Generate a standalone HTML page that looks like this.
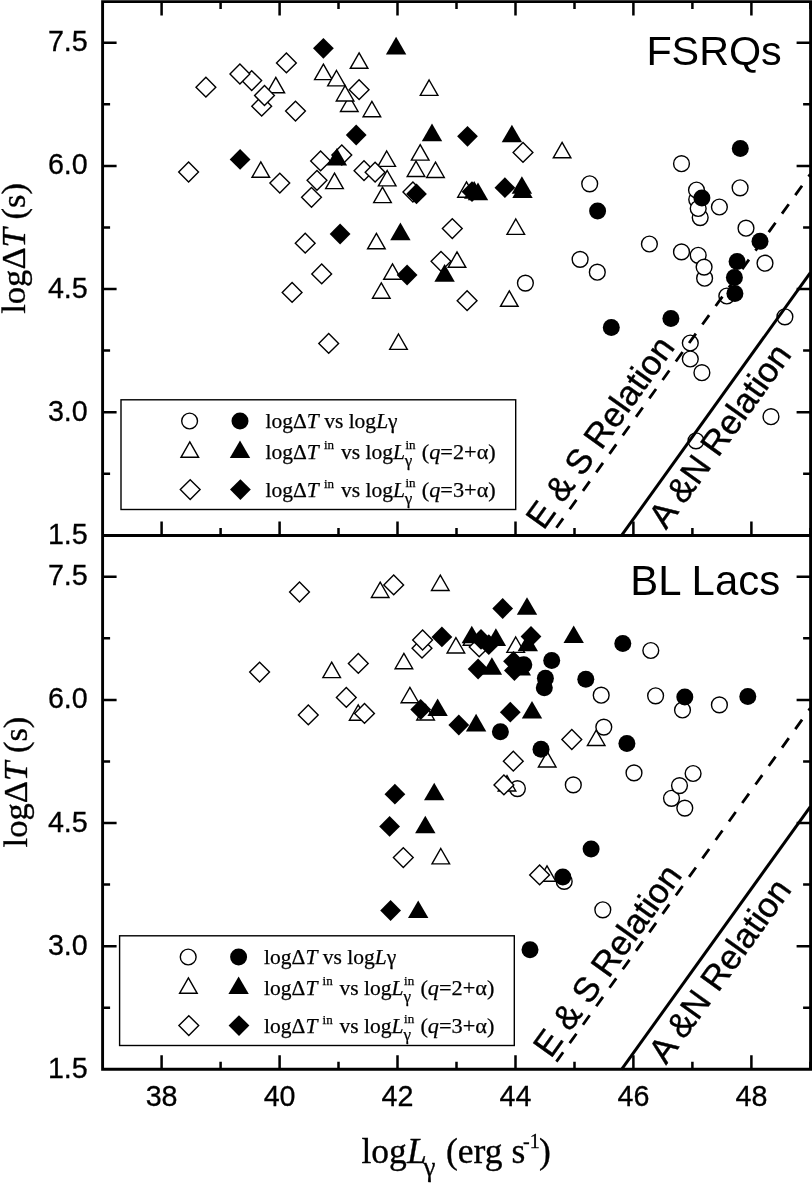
<!DOCTYPE html>
<html><head><meta charset="utf-8"><title>logΔT vs logLγ</title>
<style>html,body{margin:0;padding:0;background:#fff}svg{display:block}text{fill:#000}</style></head>
<body>
<svg width="812" height="1183" viewBox="0 0 812 1183">
<rect width="812" height="1183" fill="#fff"/>
<g id="top-data"><g><circle cx="681.5" cy="163.7" r="7.9" fill="#fff" stroke="#000" stroke-width="1.4"/><circle cx="696.7" cy="199.6" r="7.9" fill="#fff" stroke="#000" stroke-width="1.4"/><circle cx="696.5" cy="190.0" r="7.9" fill="#fff" stroke="#000" stroke-width="1.4"/><circle cx="700.2" cy="217.6" r="7.9" fill="#fff" stroke="#000" stroke-width="1.4"/><circle cx="698.2" cy="208.5" r="7.9" fill="#fff" stroke="#000" stroke-width="1.4"/><circle cx="719.4" cy="207.0" r="7.9" fill="#fff" stroke="#000" stroke-width="1.4"/><circle cx="740.1" cy="187.8" r="7.9" fill="#fff" stroke="#000" stroke-width="1.4"/><circle cx="746.0" cy="228.2" r="7.9" fill="#fff" stroke="#000" stroke-width="1.4"/><circle cx="649.4" cy="244.0" r="7.9" fill="#fff" stroke="#000" stroke-width="1.4"/><circle cx="681.5" cy="251.9" r="7.9" fill="#fff" stroke="#000" stroke-width="1.4"/><circle cx="698.2" cy="255.3" r="7.9" fill="#fff" stroke="#000" stroke-width="1.4"/><circle cx="704.6" cy="278.2" r="7.9" fill="#fff" stroke="#000" stroke-width="1.4"/><circle cx="704.1" cy="267.1" r="7.9" fill="#fff" stroke="#000" stroke-width="1.4"/><circle cx="765.0" cy="263.2" r="7.9" fill="#fff" stroke="#000" stroke-width="1.4"/><circle cx="726.8" cy="296.0" r="7.9" fill="#fff" stroke="#000" stroke-width="1.4"/><circle cx="784.9" cy="316.8" r="7.9" fill="#fff" stroke="#000" stroke-width="1.4"/><circle cx="690.3" cy="343.0" r="7.9" fill="#fff" stroke="#000" stroke-width="1.4"/><circle cx="690.3" cy="359.0" r="7.9" fill="#fff" stroke="#000" stroke-width="1.4"/><circle cx="701.9" cy="372.7" r="7.9" fill="#fff" stroke="#000" stroke-width="1.4"/><circle cx="696.0" cy="440.8" r="7.9" fill="#fff" stroke="#000" stroke-width="1.4"/><circle cx="771.0" cy="416.7" r="7.9" fill="#fff" stroke="#000" stroke-width="1.4"/><circle cx="589.7" cy="183.8" r="7.9" fill="#fff" stroke="#000" stroke-width="1.4"/><circle cx="580.1" cy="259.4" r="7.9" fill="#fff" stroke="#000" stroke-width="1.4"/><circle cx="597.3" cy="272.2" r="7.9" fill="#fff" stroke="#000" stroke-width="1.4"/><circle cx="525.4" cy="283.1" r="7.9" fill="#fff" stroke="#000" stroke-width="1.4"/></g>
<g><path d="M275.8 77.4L284.6 92.8H267.0Z" fill="#fff" stroke="#000" stroke-width="1.4" stroke-linejoin="miter"/><path d="M323.4 64.2L332.2 79.6H314.6Z" fill="#fff" stroke="#000" stroke-width="1.4" stroke-linejoin="miter"/><path d="M260.8 161.9L269.6 177.3H252.0Z" fill="#fff" stroke="#000" stroke-width="1.4" stroke-linejoin="miter"/><path d="M359.1 52.9L367.9 68.3H350.3Z" fill="#fff" stroke="#000" stroke-width="1.4" stroke-linejoin="miter"/><path d="M336.5 70.5L345.3 85.9H327.7Z" fill="#fff" stroke="#000" stroke-width="1.4" stroke-linejoin="miter"/><path d="M349.3 96.1L358.1 111.5H340.5Z" fill="#fff" stroke="#000" stroke-width="1.4" stroke-linejoin="miter"/><path d="M345.1 85.6L353.9 101.0H336.3Z" fill="#fff" stroke="#000" stroke-width="1.4" stroke-linejoin="miter"/><path d="M371.9 101.3L380.7 116.7H363.1Z" fill="#fff" stroke="#000" stroke-width="1.4" stroke-linejoin="miter"/><path d="M429.1 80.0L437.9 95.4H420.3Z" fill="#fff" stroke="#000" stroke-width="1.4" stroke-linejoin="miter"/><path d="M420.2 144.7L429.0 160.1H411.4Z" fill="#fff" stroke="#000" stroke-width="1.4" stroke-linejoin="miter"/><path d="M386.7 151.0L395.5 166.4H377.9Z" fill="#fff" stroke="#000" stroke-width="1.4" stroke-linejoin="miter"/><path d="M416.0 161.1L424.8 176.5H407.2Z" fill="#fff" stroke="#000" stroke-width="1.4" stroke-linejoin="miter"/><path d="M435.5 162.1L444.3 177.5H426.7Z" fill="#fff" stroke="#000" stroke-width="1.4" stroke-linejoin="miter"/><path d="M387.2 170.5L396.0 185.9H378.4Z" fill="#fff" stroke="#000" stroke-width="1.4" stroke-linejoin="miter"/><path d="M334.5 173.2L343.3 188.6H325.7Z" fill="#fff" stroke="#000" stroke-width="1.4" stroke-linejoin="miter"/><path d="M382.5 187.2L391.3 202.6H373.7Z" fill="#fff" stroke="#000" stroke-width="1.4" stroke-linejoin="miter"/><path d="M376.4 233.4L385.2 248.8H367.6Z" fill="#fff" stroke="#000" stroke-width="1.4" stroke-linejoin="miter"/><path d="M457.0 251.9L465.8 267.3H448.2Z" fill="#fff" stroke="#000" stroke-width="1.4" stroke-linejoin="miter"/><path d="M392.5 263.9L401.3 279.3H383.7Z" fill="#fff" stroke="#000" stroke-width="1.4" stroke-linejoin="miter"/><path d="M381.3 282.8L390.1 298.2H372.5Z" fill="#fff" stroke="#000" stroke-width="1.4" stroke-linejoin="miter"/><path d="M466.5 181.8L475.3 197.2H457.7Z" fill="#fff" stroke="#000" stroke-width="1.4" stroke-linejoin="miter"/><path d="M562.1 142.4L570.9 157.8H553.3Z" fill="#fff" stroke="#000" stroke-width="1.4" stroke-linejoin="miter"/><path d="M515.8 219.0L524.6 234.4H507.0Z" fill="#fff" stroke="#000" stroke-width="1.4" stroke-linejoin="miter"/><path d="M509.3 290.9L518.1 306.3H500.5Z" fill="#fff" stroke="#000" stroke-width="1.4" stroke-linejoin="miter"/><path d="M398.5 334.0L407.3 349.4H389.7Z" fill="#fff" stroke="#000" stroke-width="1.4" stroke-linejoin="miter"/></g>
<g><path d="M205.9 77.3L215.8 87.2L205.9 97.1L196.0 87.2Z" fill="#fff" stroke="#000" stroke-width="1.4"/><path d="M251.7 70.7L261.6 80.6L251.7 90.5L241.8 80.6Z" fill="#fff" stroke="#000" stroke-width="1.4"/><path d="M239.9 64.1L249.8 74.0L239.9 83.9L230.0 74.0Z" fill="#fff" stroke="#000" stroke-width="1.4"/><path d="M261.7 96.3L271.6 106.2L261.7 116.1L251.8 106.2Z" fill="#fff" stroke="#000" stroke-width="1.4"/><path d="M264.5 85.6L274.4 95.5L264.5 105.4L254.6 95.5Z" fill="#fff" stroke="#000" stroke-width="1.4"/><path d="M286.4 53.0L296.3 62.9L286.4 72.8L276.5 62.9Z" fill="#fff" stroke="#000" stroke-width="1.4"/><path d="M295.5 101.2L305.4 111.1L295.5 121.0L285.6 111.1Z" fill="#fff" stroke="#000" stroke-width="1.4"/><path d="M188.6 162.1L198.5 172.0L188.6 181.9L178.7 172.0Z" fill="#fff" stroke="#000" stroke-width="1.4"/><path d="M279.8 173.2L289.7 183.1L279.8 193.0L269.9 183.1Z" fill="#fff" stroke="#000" stroke-width="1.4"/><path d="M320.6 151.0L330.5 160.9L320.6 170.8L310.7 160.9Z" fill="#fff" stroke="#000" stroke-width="1.4"/><path d="M317.0 170.4L326.9 180.3L317.0 190.2L307.1 180.3Z" fill="#fff" stroke="#000" stroke-width="1.4"/><path d="M311.5 187.4L321.4 197.3L311.5 207.2L301.6 197.3Z" fill="#fff" stroke="#000" stroke-width="1.4"/><path d="M305.2 233.3L315.1 243.2L305.2 253.1L295.3 243.2Z" fill="#fff" stroke="#000" stroke-width="1.4"/><path d="M321.7 264.0L331.6 273.9L321.7 283.8L311.8 273.9Z" fill="#fff" stroke="#000" stroke-width="1.4"/><path d="M292.1 282.5L302.0 292.4L292.1 302.3L282.2 292.4Z" fill="#fff" stroke="#000" stroke-width="1.4"/><path d="M359.1 79.8L369.0 89.7L359.1 99.6L349.2 89.7Z" fill="#fff" stroke="#000" stroke-width="1.4"/><path d="M341.8 145.1L351.7 155.0L341.8 164.9L331.9 155.0Z" fill="#fff" stroke="#000" stroke-width="1.4"/><path d="M364.0 160.8L373.9 170.7L364.0 180.6L354.1 170.7Z" fill="#fff" stroke="#000" stroke-width="1.4"/><path d="M375.1 162.3L385.0 172.2L375.1 182.1L365.2 172.2Z" fill="#fff" stroke="#000" stroke-width="1.4"/><path d="M412.9 182.1L422.8 192.0L412.9 201.9L403.0 192.0Z" fill="#fff" stroke="#000" stroke-width="1.4"/><path d="M452.3 218.7L462.2 228.6L452.3 238.5L442.4 228.6Z" fill="#fff" stroke="#000" stroke-width="1.4"/><path d="M441.0 251.4L450.9 261.3L441.0 271.2L431.1 261.3Z" fill="#fff" stroke="#000" stroke-width="1.4"/><path d="M467.1 290.8L477.0 300.7L467.1 310.6L457.2 300.7Z" fill="#fff" stroke="#000" stroke-width="1.4"/><path d="M523.0 142.5L532.9 152.4L523.0 162.3L513.1 152.4Z" fill="#fff" stroke="#000" stroke-width="1.4"/><path d="M328.7 333.5L338.6 343.4L328.7 353.3L318.8 343.4Z" fill="#fff" stroke="#000" stroke-width="1.4"/></g>
<g><circle cx="740.3" cy="148.4" r="8.5" fill="#000"/><circle cx="701.9" cy="197.9" r="8.5" fill="#000"/><circle cx="760.0" cy="241.3" r="8.5" fill="#000"/><circle cx="737.1" cy="261.5" r="8.5" fill="#000"/><circle cx="734.4" cy="277.5" r="8.5" fill="#000"/><circle cx="734.9" cy="293.5" r="8.5" fill="#000"/><circle cx="670.9" cy="318.4" r="8.5" fill="#000"/><circle cx="611.3" cy="327.5" r="8.5" fill="#000"/><circle cx="597.6" cy="210.9" r="8.5" fill="#000"/></g>
<g><path d="M396.1 36.8L406.3 54.4H385.9Z" fill="#000"/><path d="M432.0 123.6L442.2 141.2H421.8Z" fill="#000"/><path d="M336.9 147.9L347.1 165.5H326.7Z" fill="#000"/><path d="M400.4 222.6L410.6 240.2H390.2Z" fill="#000"/><path d="M444.6 264.1L454.8 281.7H434.4Z" fill="#000"/><path d="M474.2 181.1L484.4 198.7H464.0Z" fill="#000"/><path d="M478.0 182.6L488.2 200.2H467.8Z" fill="#000"/><path d="M511.9 124.7L522.1 142.3H501.7Z" fill="#000"/><path d="M521.9 176.2L532.1 193.8H511.7Z" fill="#000"/><path d="M522.5 180.4L532.7 198.0H512.3Z" fill="#000"/></g>
<g><path d="M323.4 37.9L333.8 48.3L323.4 58.7L313.0 48.3Z" fill="#000"/><path d="M240.1 149.0L250.5 159.4L240.1 169.8L229.7 159.4Z" fill="#000"/><path d="M356.2 124.6L366.6 135.0L356.2 145.4L345.8 135.0Z" fill="#000"/><path d="M467.5 125.9L477.9 136.3L467.5 146.7L457.1 136.3Z" fill="#000"/><path d="M340.1 223.6L350.5 234.0L340.1 244.4L329.7 234.0Z" fill="#000"/><path d="M416.5 183.5L426.9 193.9L416.5 204.3L406.1 193.9Z" fill="#000"/><path d="M407.1 264.6L417.5 275.0L407.1 285.4L396.7 275.0Z" fill="#000"/><path d="M472.0 181.3L482.4 191.7L472.0 202.1L461.6 191.7Z" fill="#000"/><path d="M504.9 177.3L515.3 187.7L504.9 198.1L494.5 187.7Z" fill="#000"/></g></g>
<g id="bot-data"><g><circle cx="564.2" cy="881.4" r="7.9" fill="#fff" stroke="#000" stroke-width="1.4"/><circle cx="573.3" cy="784.9" r="7.9" fill="#fff" stroke="#000" stroke-width="1.4"/><circle cx="517.4" cy="788.6" r="7.9" fill="#fff" stroke="#000" stroke-width="1.4"/><circle cx="650.8" cy="650.5" r="7.9" fill="#fff" stroke="#000" stroke-width="1.4"/><circle cx="601.2" cy="695.2" r="7.9" fill="#fff" stroke="#000" stroke-width="1.4"/><circle cx="655.6" cy="695.8" r="7.9" fill="#fff" stroke="#000" stroke-width="1.4"/><circle cx="682.5" cy="710.0" r="7.9" fill="#fff" stroke="#000" stroke-width="1.4"/><circle cx="719.4" cy="704.9" r="7.9" fill="#fff" stroke="#000" stroke-width="1.4"/><circle cx="603.8" cy="727.1" r="7.9" fill="#fff" stroke="#000" stroke-width="1.4"/><circle cx="634.0" cy="772.9" r="7.9" fill="#fff" stroke="#000" stroke-width="1.4"/><circle cx="693.1" cy="773.5" r="7.9" fill="#fff" stroke="#000" stroke-width="1.4"/><circle cx="671.5" cy="798.3" r="7.9" fill="#fff" stroke="#000" stroke-width="1.4"/><circle cx="679.5" cy="785.6" r="7.9" fill="#fff" stroke="#000" stroke-width="1.4"/><circle cx="684.8" cy="808.1" r="7.9" fill="#fff" stroke="#000" stroke-width="1.4"/><circle cx="602.8" cy="909.8" r="7.9" fill="#fff" stroke="#000" stroke-width="1.4"/></g>
<g><path d="M380.2 582.1L389.0 597.5H371.4Z" fill="#fff" stroke="#000" stroke-width="1.4" stroke-linejoin="miter"/><path d="M331.7 662.2L340.5 677.6H322.9Z" fill="#fff" stroke="#000" stroke-width="1.4" stroke-linejoin="miter"/><path d="M403.9 653.3L412.7 668.7H395.1Z" fill="#fff" stroke="#000" stroke-width="1.4" stroke-linejoin="miter"/><path d="M409.9 687.3L418.7 702.7H401.1Z" fill="#fff" stroke="#000" stroke-width="1.4" stroke-linejoin="miter"/><path d="M358.2 704.8L367.0 720.2H349.4Z" fill="#fff" stroke="#000" stroke-width="1.4" stroke-linejoin="miter"/><path d="M440.3 575.1L449.1 590.5H431.5Z" fill="#fff" stroke="#000" stroke-width="1.4" stroke-linejoin="miter"/><path d="M455.9 637.6L464.7 653.0H447.1Z" fill="#fff" stroke="#000" stroke-width="1.4" stroke-linejoin="miter"/><path d="M425.6 704.6L434.4 720.0H416.8Z" fill="#fff" stroke="#000" stroke-width="1.4" stroke-linejoin="miter"/><path d="M515.7 637.0L524.5 652.4H506.9Z" fill="#fff" stroke="#000" stroke-width="1.4" stroke-linejoin="miter"/><path d="M547.2 751.6L556.0 767.0H538.4Z" fill="#fff" stroke="#000" stroke-width="1.4" stroke-linejoin="miter"/><path d="M507.0 775.6L515.8 791.0H498.2Z" fill="#fff" stroke="#000" stroke-width="1.4" stroke-linejoin="miter"/><path d="M472.0 629.9L480.8 645.3H463.2Z" fill="#fff" stroke="#000" stroke-width="1.4" stroke-linejoin="miter"/><path d="M596.2 730.1L605.0 745.5H587.4Z" fill="#fff" stroke="#000" stroke-width="1.4" stroke-linejoin="miter"/><path d="M440.8 848.5L449.6 863.9H432.0Z" fill="#fff" stroke="#000" stroke-width="1.4" stroke-linejoin="miter"/><path d="M547.0 865.8L555.8 881.2H538.2Z" fill="#fff" stroke="#000" stroke-width="1.4" stroke-linejoin="miter"/></g>
<g><path d="M299.5 582.1L309.4 592.0L299.5 601.9L289.6 592.0Z" fill="#fff" stroke="#000" stroke-width="1.4"/><path d="M393.7 575.0L403.6 584.9L393.7 594.8L383.8 584.9Z" fill="#fff" stroke="#000" stroke-width="1.4"/><path d="M259.6 662.2L269.5 672.1L259.6 682.0L249.7 672.1Z" fill="#fff" stroke="#000" stroke-width="1.4"/><path d="M358.3 653.5L368.2 663.4L358.3 673.3L348.4 663.4Z" fill="#fff" stroke="#000" stroke-width="1.4"/><path d="M346.3 687.5L356.2 697.4L346.3 707.3L336.4 697.4Z" fill="#fff" stroke="#000" stroke-width="1.4"/><path d="M308.3 705.0L318.2 714.9L308.3 724.8L298.4 714.9Z" fill="#fff" stroke="#000" stroke-width="1.4"/><path d="M364.5 703.5L374.4 713.4L364.5 723.3L354.6 713.4Z" fill="#fff" stroke="#000" stroke-width="1.4"/><path d="M422.0 638.3L431.9 648.2L422.0 658.1L412.1 648.2Z" fill="#fff" stroke="#000" stroke-width="1.4"/><path d="M422.6 630.1L432.5 640.0L422.6 649.9L412.7 640.0Z" fill="#fff" stroke="#000" stroke-width="1.4"/><path d="M479.2 637.0L489.1 646.9L479.2 656.8L469.3 646.9Z" fill="#fff" stroke="#000" stroke-width="1.4"/><path d="M513.3 751.3L523.2 761.2L513.3 771.1L503.4 761.2Z" fill="#fff" stroke="#000" stroke-width="1.4"/><path d="M571.8 729.6L581.7 739.5L571.8 749.4L561.9 739.5Z" fill="#fff" stroke="#000" stroke-width="1.4"/><path d="M503.9 775.0L513.8 784.9L503.9 794.8L494.0 784.9Z" fill="#fff" stroke="#000" stroke-width="1.4"/><path d="M403.3 847.7L413.2 857.6L403.3 867.5L393.4 857.6Z" fill="#fff" stroke="#000" stroke-width="1.4"/><path d="M539.6 865.0L549.5 874.9L539.6 884.8L529.7 874.9Z" fill="#fff" stroke="#000" stroke-width="1.4"/></g>
<g><circle cx="622.8" cy="643.5" r="8.5" fill="#000"/><circle cx="551.7" cy="660.4" r="8.5" fill="#000"/><circle cx="545.4" cy="678.2" r="8.5" fill="#000"/><circle cx="544.3" cy="687.8" r="8.5" fill="#000"/><circle cx="585.8" cy="679.2" r="8.5" fill="#000"/><circle cx="684.8" cy="697.0" r="8.5" fill="#000"/><circle cx="747.8" cy="696.4" r="8.5" fill="#000"/><circle cx="626.9" cy="743.4" r="8.5" fill="#000"/><circle cx="541.0" cy="749.3" r="8.5" fill="#000"/><circle cx="591.1" cy="849.0" r="8.5" fill="#000"/><circle cx="562.8" cy="877.0" r="8.5" fill="#000"/><circle cx="523.8" cy="664.8" r="8.5" fill="#000"/><circle cx="500.4" cy="731.7" r="8.5" fill="#000"/><circle cx="530.0" cy="949.7" r="8.5" fill="#000"/></g>
<g><path d="M527.0 597.2L537.2 614.8H516.8Z" fill="#000"/><path d="M471.8 625.7L482.0 643.3H461.6Z" fill="#000"/><path d="M495.9 628.3L506.1 645.9H485.7Z" fill="#000"/><path d="M491.9 657.2L502.1 674.8H481.7Z" fill="#000"/><path d="M527.8 633.7L538.0 651.3H517.6Z" fill="#000"/><path d="M520.8 657.9L531.0 675.5H510.6Z" fill="#000"/><path d="M573.7 625.4L583.9 643.0H563.5Z" fill="#000"/><path d="M437.6 698.5L447.8 716.1H427.4Z" fill="#000"/><path d="M476.1 713.8L486.3 731.4H465.9Z" fill="#000"/><path d="M532.0 701.0L542.2 718.6H521.8Z" fill="#000"/><path d="M434.2 782.7L444.4 800.3H424.0Z" fill="#000"/><path d="M425.3 815.7L435.5 833.3H415.1Z" fill="#000"/><path d="M418.2 900.5L428.4 918.1H408.0Z" fill="#000"/></g>
<g><path d="M502.7 598.1L513.1 608.5L502.7 618.9L492.3 608.5Z" fill="#000"/><path d="M441.9 626.5L452.3 636.9L441.9 647.3L431.5 636.9Z" fill="#000"/><path d="M531.0 626.1L541.4 636.5L531.0 646.9L520.6 636.5Z" fill="#000"/><path d="M481.0 629.0L491.4 639.4L481.0 649.8L470.6 639.4Z" fill="#000"/><path d="M488.8 634.3L499.2 644.7L488.8 655.1L478.4 644.7Z" fill="#000"/><path d="M478.1 658.6L488.5 669.0L478.1 679.4L467.7 669.0Z" fill="#000"/><path d="M513.5 650.9L523.9 661.3L513.5 671.7L503.1 661.3Z" fill="#000"/><path d="M514.4 660.1L524.8 670.5L514.4 680.9L504.0 670.5Z" fill="#000"/><path d="M420.7 699.1L431.1 709.5L420.7 719.9L410.3 709.5Z" fill="#000"/><path d="M458.8 714.6L469.2 725.0L458.8 735.4L448.4 725.0Z" fill="#000"/><path d="M510.3 701.8L520.7 712.2L510.3 722.6L499.9 712.2Z" fill="#000"/><path d="M394.9 783.8L405.3 794.2L394.9 804.6L384.5 794.2Z" fill="#000"/><path d="M389.6 816.0L400.0 826.4L389.6 836.8L379.2 826.4Z" fill="#000"/><path d="M390.6 900.1L401.0 910.5L390.6 920.9L380.2 910.5Z" fill="#000"/></g></g>
<path d="M550.9 535.4L810.4 174.1" stroke="#000" stroke-width="2.8" stroke-dasharray="11.6 11.15" stroke-dashoffset="13.35" fill="none"/>
<path d="M621.6 535.4L810.4 272.6" stroke="#000" stroke-width="3.0" fill="none"/>
<path d="M550.9 1069.3L810.4 708.1" stroke="#000" stroke-width="2.8" stroke-dasharray="11.6 11.15" stroke-dashoffset="13.35" fill="none"/>
<path d="M621.6 1069.3L810.4 806.6" stroke="#000" stroke-width="3.0" fill="none"/>
<text transform="translate(543.6 531.0) rotate(-54.25)" font-family="Liberation Sans, sans-serif" font-size="34.8" stroke="#000" stroke-width="0.4">E &amp; S Relation</text>
<text transform="translate(666.0 530.5) rotate(-54.25)" font-family="Liberation Sans, sans-serif" font-size="34.8" stroke="#000" stroke-width="0.4">A &amp;N Relation</text>
<text transform="translate(550.8 1059.2) rotate(-54.25)" font-family="Liberation Sans, sans-serif" font-size="34.8" stroke="#000" stroke-width="0.4">E &amp; S Relation</text>
<text transform="translate(666.0 1065.5) rotate(-54.25)" font-family="Liberation Sans, sans-serif" font-size="34.8" stroke="#000" stroke-width="0.4">A &amp;N Relation</text>
<g transform="translate(0 0)"><rect x="121" y="399.8" width="394.7" height="109.7" fill="#fff" stroke="#000" stroke-width="1.4"/>
<circle cx="189.6" cy="421.0" r="7.9" fill="#fff" stroke="#000" stroke-width="1.4"/><circle cx="240.0" cy="421.0" r="8.5" fill="#000"/>
<path d="M189.8 441.9L198.6 457.3H181.0Z" fill="#fff" stroke="#000" stroke-width="1.4" stroke-linejoin="miter"/><path d="M240.0 440.5L250.2 458.1H229.8Z" fill="#000"/>
<path d="M190.2 479.7L200.1 489.6L190.2 499.5L180.3 489.6Z" fill="#fff" stroke="#000" stroke-width="1.4"/><path d="M240.4 479.2L250.8 489.6L240.4 500.0L230.0 489.6Z" fill="#000"/>
<text x="265.5" y="428.3" font-family="Liberation Serif, serif" stroke="#000" stroke-width="0.25" font-size="21.5">logΔ<tspan font-style="italic">T</tspan> vs log<tspan font-style="italic">L</tspan>γ</text>
<text x="265.5" y="458.5" font-family="Liberation Serif, serif" stroke="#000" stroke-width="0.25" font-size="21.5">logΔ<tspan font-style="italic">T</tspan></text>
<text x="324" y="449.2" font-family="Liberation Serif, serif" stroke="#000" stroke-width="0.25" font-size="13">in</text>
<text x="341.0" y="458.5" font-family="Liberation Serif, serif" stroke="#000" stroke-width="0.25" font-size="21.5">vs log<tspan font-style="italic">L</tspan></text>
<text x="405.5" y="448.7" font-family="Liberation Serif, serif" stroke="#000" stroke-width="0.25" font-size="13">in</text>
<text x="404.8" y="465.9" font-family="Liberation Serif, serif" stroke="#000" stroke-width="0.25" font-size="17">γ</text>
<text x="421.8" y="458.5" font-family="Liberation Serif, serif" stroke="#000" stroke-width="0.25" font-size="21.5" textLength="74" lengthAdjust="spacingAndGlyphs">(<tspan font-style="italic">q</tspan>=2+α)</text>
<text x="265.5" y="496.8" font-family="Liberation Serif, serif" stroke="#000" stroke-width="0.25" font-size="21.5">logΔ<tspan font-style="italic">T</tspan></text>
<text x="324" y="487.5" font-family="Liberation Serif, serif" stroke="#000" stroke-width="0.25" font-size="13">in</text>
<text x="341.0" y="496.8" font-family="Liberation Serif, serif" stroke="#000" stroke-width="0.25" font-size="21.5">vs log<tspan font-style="italic">L</tspan></text>
<text x="405.5" y="487.0" font-family="Liberation Serif, serif" stroke="#000" stroke-width="0.25" font-size="13">in</text>
<text x="404.8" y="504.2" font-family="Liberation Serif, serif" stroke="#000" stroke-width="0.25" font-size="17">γ</text>
<text x="421.8" y="496.8" font-family="Liberation Serif, serif" stroke="#000" stroke-width="0.25" font-size="21.5" textLength="74" lengthAdjust="spacingAndGlyphs">(<tspan font-style="italic">q</tspan>=3+α)</text></g>
<g transform="translate(-1.4 536)"><rect x="121" y="399.8" width="394.7" height="109.7" fill="#fff" stroke="#000" stroke-width="1.4"/>
<circle cx="189.6" cy="421.0" r="7.9" fill="#fff" stroke="#000" stroke-width="1.4"/><circle cx="240.0" cy="421.0" r="8.5" fill="#000"/>
<path d="M189.8 441.9L198.6 457.3H181.0Z" fill="#fff" stroke="#000" stroke-width="1.4" stroke-linejoin="miter"/><path d="M240.0 440.5L250.2 458.1H229.8Z" fill="#000"/>
<path d="M190.2 479.7L200.1 489.6L190.2 499.5L180.3 489.6Z" fill="#fff" stroke="#000" stroke-width="1.4"/><path d="M240.4 479.2L250.8 489.6L240.4 500.0L230.0 489.6Z" fill="#000"/>
<text x="265.5" y="428.3" font-family="Liberation Serif, serif" stroke="#000" stroke-width="0.25" font-size="21.5">logΔ<tspan font-style="italic">T</tspan> vs log<tspan font-style="italic">L</tspan>γ</text>
<text x="265.5" y="458.5" font-family="Liberation Serif, serif" stroke="#000" stroke-width="0.25" font-size="21.5">logΔ<tspan font-style="italic">T</tspan></text>
<text x="324" y="449.2" font-family="Liberation Serif, serif" stroke="#000" stroke-width="0.25" font-size="13">in</text>
<text x="341.0" y="458.5" font-family="Liberation Serif, serif" stroke="#000" stroke-width="0.25" font-size="21.5">vs log<tspan font-style="italic">L</tspan></text>
<text x="405.5" y="448.7" font-family="Liberation Serif, serif" stroke="#000" stroke-width="0.25" font-size="13">in</text>
<text x="404.8" y="465.9" font-family="Liberation Serif, serif" stroke="#000" stroke-width="0.25" font-size="17">γ</text>
<text x="421.8" y="458.5" font-family="Liberation Serif, serif" stroke="#000" stroke-width="0.25" font-size="21.5" textLength="74" lengthAdjust="spacingAndGlyphs">(<tspan font-style="italic">q</tspan>=2+α)</text>
<text x="265.5" y="496.8" font-family="Liberation Serif, serif" stroke="#000" stroke-width="0.25" font-size="21.5">logΔ<tspan font-style="italic">T</tspan></text>
<text x="324" y="487.5" font-family="Liberation Serif, serif" stroke="#000" stroke-width="0.25" font-size="13">in</text>
<text x="341.0" y="496.8" font-family="Liberation Serif, serif" stroke="#000" stroke-width="0.25" font-size="21.5">vs log<tspan font-style="italic">L</tspan></text>
<text x="405.5" y="487.0" font-family="Liberation Serif, serif" stroke="#000" stroke-width="0.25" font-size="13">in</text>
<text x="404.8" y="504.2" font-family="Liberation Serif, serif" stroke="#000" stroke-width="0.25" font-size="17">γ</text>
<text x="421.8" y="496.8" font-family="Liberation Serif, serif" stroke="#000" stroke-width="0.25" font-size="21.5" textLength="74" lengthAdjust="spacingAndGlyphs">(<tspan font-style="italic">q</tspan>=3+α)</text></g>
<path d="M102.6 1.6H810.6V1069.3H102.6ZM102.6 535.5H810.6" fill="none" stroke="#000" stroke-width="2.9"/>
<path d="M102.6 473.8h7.5M810.6 473.8h-7.5M102.6 412.2h14M810.6 412.2h-14M102.6 350.6h7.5M810.6 350.6h-7.5M102.6 289.0h14M810.6 289.0h-14M102.6 227.4h7.5M810.6 227.4h-7.5M102.6 165.9h14M810.6 165.9h-14M102.6 104.3h7.5M810.6 104.3h-7.5M102.6 42.7h14M810.6 42.7h-14M161.6 535.5v-14M161.6 1.6v14M220.6 535.5v-7.5M220.6 1.6v7.5M279.6 535.5v-14M279.6 1.6v14M338.5 535.5v-7.5M338.5 1.6v7.5M397.5 535.5v-14M397.5 1.6v14M456.5 535.5v-7.5M456.5 1.6v7.5M515.5 535.5v-14M515.5 1.6v14M574.5 535.5v-7.5M574.5 1.6v7.5M633.4 535.5v-14M633.4 1.6v14M692.4 535.5v-7.5M692.4 1.6v7.5M751.4 535.5v-14M751.4 1.6v14M810.4 535.5v-7.5M810.4 1.6v7.5" stroke="#000" stroke-width="2.5" fill="none"/>
<path d="M102.6 1007.7h7.5M810.6 1007.7h-7.5M102.6 946.2h14M810.6 946.2h-14M102.6 884.6h7.5M810.6 884.6h-7.5M102.6 823.0h14M810.6 823.0h-14M102.6 761.4h7.5M810.6 761.4h-7.5M102.6 699.9h14M810.6 699.9h-14M102.6 638.3h7.5M810.6 638.3h-7.5M102.6 576.7h14M810.6 576.7h-14M161.6 1069.3v-14M220.6 1069.3v-7.5M279.6 1069.3v-14M338.5 1069.3v-7.5M397.5 1069.3v-14M456.5 1069.3v-7.5M515.5 1069.3v-14M574.5 1069.3v-7.5M633.4 1069.3v-14M692.4 1069.3v-7.5M751.4 1069.3v-14M810.4 1069.3v-7.5" stroke="#000" stroke-width="2.5" fill="none"/>
<text x="87.8" y="543.9" text-anchor="end" font-family="Liberation Sans, sans-serif" font-size="28.7" stroke="#000" stroke-width="0.3">1.5</text>
<text x="87.8" y="1077.8" text-anchor="end" font-family="Liberation Sans, sans-serif" font-size="28.7" stroke="#000" stroke-width="0.3">1.5</text>
<text x="87.8" y="420.7" text-anchor="end" font-family="Liberation Sans, sans-serif" font-size="28.7" stroke="#000" stroke-width="0.3">3.0</text>
<text x="87.8" y="954.7" text-anchor="end" font-family="Liberation Sans, sans-serif" font-size="28.7" stroke="#000" stroke-width="0.3">3.0</text>
<text x="87.8" y="297.5" text-anchor="end" font-family="Liberation Sans, sans-serif" font-size="28.7" stroke="#000" stroke-width="0.3">4.5</text>
<text x="87.8" y="831.5" text-anchor="end" font-family="Liberation Sans, sans-serif" font-size="28.7" stroke="#000" stroke-width="0.3">4.5</text>
<text x="87.8" y="174.4" text-anchor="end" font-family="Liberation Sans, sans-serif" font-size="28.7" stroke="#000" stroke-width="0.3">6.0</text>
<text x="87.8" y="708.4" text-anchor="end" font-family="Liberation Sans, sans-serif" font-size="28.7" stroke="#000" stroke-width="0.3">6.0</text>
<text x="87.8" y="51.2" text-anchor="end" font-family="Liberation Sans, sans-serif" font-size="28.7" stroke="#000" stroke-width="0.3">7.5</text>
<text x="87.8" y="585.2" text-anchor="end" font-family="Liberation Sans, sans-serif" font-size="28.7" stroke="#000" stroke-width="0.3">7.5</text>
<text x="161.6" y="1106.2" text-anchor="middle" font-family="Liberation Sans, sans-serif" font-size="28.7" stroke="#000" stroke-width="0.3">38</text>
<text x="279.6" y="1106.2" text-anchor="middle" font-family="Liberation Sans, sans-serif" font-size="28.7" stroke="#000" stroke-width="0.3">40</text>
<text x="397.5" y="1106.2" text-anchor="middle" font-family="Liberation Sans, sans-serif" font-size="28.7" stroke="#000" stroke-width="0.3">42</text>
<text x="515.5" y="1106.2" text-anchor="middle" font-family="Liberation Sans, sans-serif" font-size="28.7" stroke="#000" stroke-width="0.3">44</text>
<text x="633.4" y="1106.2" text-anchor="middle" font-family="Liberation Sans, sans-serif" font-size="28.7" stroke="#000" stroke-width="0.3">46</text>
<text x="751.4" y="1106.2" text-anchor="middle" font-family="Liberation Sans, sans-serif" font-size="28.7" stroke="#000" stroke-width="0.3">48</text>
<text x="646.4" y="64.9" font-family="Liberation Sans, sans-serif" font-size="41.3">FSRQs</text>
<text x="630.3" y="594.6" font-family="Liberation Sans, sans-serif" font-size="41.9">BL Lacs</text>
<text transform="translate(25 313.8) rotate(-90)" font-family="Liberation Serif, serif" font-size="34.6" stroke="#000" stroke-width="0.35">logΔ<tspan font-style="italic">T</tspan> (s)</text>
<text transform="translate(26.6 847.4) rotate(-90)" font-family="Liberation Serif, serif" font-size="34.6" stroke="#000" stroke-width="0.35">logΔ<tspan font-style="italic">T</tspan> (s)</text>
<text x="361.5" y="1163.2" font-family="Liberation Serif, serif" font-size="35.5" stroke="#000" stroke-width="0.35">log<tspan font-style="italic">L</tspan></text>
<text x="423.5" y="1176" font-family="Liberation Serif, serif" font-size="27" stroke="#000" stroke-width="0.3">γ</text>
<text x="446" y="1163.2" font-family="Liberation Serif, serif" font-size="35.5" stroke="#000" stroke-width="0.35">(erg s</text>
<text x="523" y="1148" font-family="Liberation Serif, serif" font-size="20" stroke="#000" stroke-width="0.3">-1</text>
<text x="539" y="1163.2" font-family="Liberation Serif, serif" font-size="35.5" stroke="#000" stroke-width="0.35">)</text>
</svg></body></html>
